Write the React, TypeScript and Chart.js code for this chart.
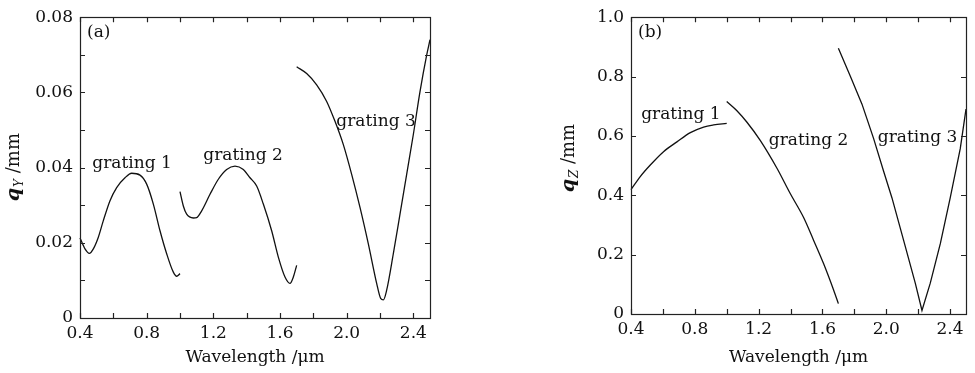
import React, { useEffect, useRef } from 'react';
import { Chart, registerables } from 'chart.js';

Chart.register(...registerables);

const FONT = '"DejaVu Serif", "Liberation Serif", serif';
const INK = '#111111';

// ---------- shared x axis ----------
const xTickValues = [0.4, 0.8, 1.2, 1.6, 2.0, 2.4];
const xTickLabels = ['0.4', '0.8', '1.2', '1.6', '2.0', '2.4'];
const xMinorTicks = [0.4, 0.6, 0.8, 1.0, 1.2, 1.4, 1.6, 1.8, 2.0, 2.2, 2.4];
const seriesNames = ['grating 1', 'grating 2', 'grating 3'];

// ---------- panel (a): q_Y ----------
const aG1X = [0.40, 0.43, 0.456, 0.48, 0.51, 0.54, 0.58, 0.62, 0.67, 0.71, 0.76, 0.80, 0.84, 0.88, 0.92, 0.96, 0.98, 1.00];
const aG1Y = [0.0213, 0.0184, 0.0172, 0.0184, 0.0215, 0.0259, 0.0312, 0.0347, 0.0373, 0.0385, 0.0380, 0.0356, 0.0303, 0.0232, 0.0171, 0.0122, 0.0111, 0.0118];
const aG2X = [1.00, 1.02, 1.04, 1.08, 1.10, 1.13, 1.18, 1.23, 1.28, 1.33, 1.38, 1.42, 1.46, 1.50, 1.55, 1.59, 1.63, 1.66, 1.68, 1.70];
const aG2Y = [0.0336, 0.0298, 0.0276, 0.0266, 0.0267, 0.0285, 0.0329, 0.0369, 0.0395, 0.0404, 0.0395, 0.0373, 0.0351, 0.0303, 0.0232, 0.0162, 0.0109, 0.0092, 0.0109, 0.0140];
const aG3X = [1.70, 1.76, 1.82, 1.88, 1.93, 1.98, 2.03, 2.08, 2.13, 2.18, 2.204, 2.22, 2.24, 2.28, 2.32, 2.36, 2.40, 2.44, 2.48, 2.50];
const aG3Y = [0.0668, 0.0650, 0.0620, 0.0576, 0.0523, 0.0461, 0.0382, 0.0294, 0.0197, 0.0092, 0.0052, 0.0048, 0.0074, 0.0171, 0.0276, 0.0382, 0.0488, 0.0602, 0.0699, 0.0740];
const aYTickValues = [0, 0.02, 0.04, 0.06, 0.08];
const aYTickLabels = ['0', '0.02', '0.04', '0.06', '0.08'];
const aYMinorTicks = [0, 0.01, 0.02, 0.03, 0.04, 0.05, 0.06, 0.07, 0.08];
const aLabelX = [0.712, 1.378, 2.176];
const aLabelY = [0.0412, 0.0433, 0.0523];

// ---------- panel (b): q_Z ----------
const bG1X = [0.40, 0.458, 0.521, 0.604, 0.688, 0.772, 0.855, 0.918, 1.00];
const bG1Y = [0.419, 0.463, 0.502, 0.547, 0.580, 0.611, 0.630, 0.637, 0.642];
const bG2X = [1.00, 1.064, 1.127, 1.21, 1.315, 1.399, 1.482, 1.545, 1.607, 1.670, 1.70];
const bG2Y = [0.716, 0.685, 0.646, 0.585, 0.491, 0.405, 0.325, 0.248, 0.170, 0.081, 0.035];
const bG3X = [1.70, 1.775, 1.848, 1.921, 1.984, 2.036, 2.109, 2.182, 2.224, 2.276, 2.339, 2.401, 2.464, 2.50];
const bG3Y = [0.895, 0.801, 0.707, 0.591, 0.480, 0.391, 0.248, 0.104, 0.012, 0.104, 0.237, 0.391, 0.557, 0.690];
const bYTickValues = [0, 0.2, 0.4, 0.6, 0.8, 1.0];
const bYTickLabels = ['0', '0.2', '0.4', '0.6', '0.8', '1.0'];
const bYMinorTicks = [0, 0.2, 0.4, 0.6, 0.8, 1.0];
const bLabelX = [0.713, 1.513, 2.196];
const bLabelY = [0.673, 0.583, 0.596];

type PanelCfg = {
  tag: string;
  sub: string;
  xs: number[][];
  ys: number[][];
  sharp: boolean[];
  yMax: number;
  yTickValues: number[];
  yTickLabels: string[];
  yMinor: number[];
  labelX: number[];
  labelY: number[];
  canvasLeft: number;
  canvasWidth: number;
  areaLeft: number;
  areaRight: number;
  areaTop: number;
  areaBottom: number;
  yTitleOffset: number;
  yTitleShift: number;
};

const H = 373;

function drawYTitle(ctx: CanvasRenderingContext2D, cx: number, cy: number, sub: string) {
  const big = `italic bold 19px ${FONT}`;
  const small = `italic 12px ${FONT}`;
  const norm = `18px ${FONT}`;
  ctx.font = big;
  const wq = ctx.measureText('q').width;
  ctx.font = small;
  const ws = ctx.measureText(sub).width;
  ctx.font = norm;
  const wr = ctx.measureText(' /mm').width;
  const total = wq + ws + wr;
  ctx.save();
  ctx.translate(cx, cy);
  ctx.rotate(-Math.PI / 2);
  ctx.fillStyle = INK;
  ctx.textAlign = 'left';
  ctx.textBaseline = 'alphabetic';
  let x = -total / 2;
  const base = 6;
  ctx.font = big;
  ctx.fillText('q', x, base);
  x += wq + 1;
  ctx.font = small;
  ctx.fillText(sub, x, base + 4);
  x += ws;
  ctx.font = norm;
  ctx.fillText(' /mm', x, base);
  ctx.restore();
}

function Panel({ cfg }: { cfg: PanelCfg }) {
  const ref = useRef<HTMLCanvasElement | null>(null);

  useEffect(() => {
    if (!ref.current) return;
    const framePlugin = {
      id: 'frameAndText',
      afterDraw(chart: any) {
        const { ctx, chartArea, scales } = chart;
        const { left, right, top, bottom } = chartArea;
        const xs = scales.x;
        const ys = scales.y;
        ctx.save();
        ctx.strokeStyle = '#222';
        ctx.lineWidth = 1.2;
        ctx.strokeRect(Math.round(left) + 0.5, Math.round(top) + 0.5, Math.round(right - left), Math.round(bottom - top));
        const L = 5;
        ctx.beginPath();
        xMinorTicks.forEach((v) => {
          const px = Math.round(xs.getPixelForValue(v)) + 0.5;
          ctx.moveTo(px, bottom);
          ctx.lineTo(px, bottom - L);
          ctx.moveTo(px, top);
          ctx.lineTo(px, top + L);
        });
        cfg.yMinor.forEach((v) => {
          const py = Math.round(ys.getPixelForValue(v)) + 0.5;
          ctx.moveTo(left, py);
          ctx.lineTo(left + L, py);
          ctx.moveTo(right, py);
          ctx.lineTo(right - L, py);
        });
        ctx.stroke();

        ctx.fillStyle = INK;
        ctx.font = `17px ${FONT}`;
        ctx.textAlign = 'center';
        ctx.textBaseline = 'middle';
        seriesNames.forEach((name, i) => {
          ctx.fillText(name, xs.getPixelForValue(cfg.labelX[i]), ys.getPixelForValue(cfg.labelY[i]));
        });
        ctx.textAlign = 'left';
        ctx.fillText(cfg.tag, left + 7, top + 15);
        ctx.restore();

        drawYTitle(ctx, left - cfg.yTitleOffset, (top + bottom) / 2 + cfg.yTitleShift, cfg.sub);
      },
    };

    const datasets = cfg.xs.map((xArr, i) => ({
      label: seriesNames[i],
      data: xArr.map((x, j) => ({ x, y: cfg.ys[i][j] })),
      showLine: true,
      borderColor: INK,
      backgroundColor: INK,
      borderWidth: 1.3,
      pointRadius: 0,
      cubicInterpolationMode: cfg.sharp[i] ? ('default' as const) : ('monotone' as const),
      tension: 0,
      clip: 4,
    }));

    const chart = new Chart(ref.current, {
      type: 'scatter',
      data: { datasets },
      options: {
        animation: false,
        responsive: false,
        events: [],
        layout: {
          padding: {
            left: 0,
            top: cfg.areaTop,
            right: cfg.canvasWidth - cfg.areaRight,
            bottom: 0,
          },
        },
        plugins: {
          legend: { display: false },
          tooltip: { enabled: false },
        },
        scales: {
          x: {
            type: 'linear',
            min: 0.4,
            max: 2.5,
            grid: { display: false, drawTicks: false },
            border: { display: false },
            afterBuildTicks: (s: any) => {
              s.ticks = xTickValues.map((v) => ({ value: v }));
            },
            afterFit: (s: any) => {
              s.height = H - cfg.areaBottom;
            },
            ticks: {
              color: INK,
              font: { family: FONT, size: 17 },
              padding: 5,
              maxRotation: 0,
              autoSkip: false,
              callback: (v: any) => {
                const i = xTickValues.findIndex((t) => Math.abs(t - Number(v)) < 1e-9);
                return i >= 0 ? xTickLabels[i] : '';
              },
            },
            title: {
              display: true,
              text: 'Wavelength /μm',
              color: INK,
              font: { family: FONT, size: 17 },
              padding: { top: 0, bottom: 5 },
            },
          },
          y: {
            type: 'linear',
            min: 0,
            max: cfg.yMax,
            grid: { display: false, drawTicks: false },
            border: { display: false },
            afterBuildTicks: (s: any) => {
              s.ticks = cfg.yTickValues.map((v) => ({ value: v }));
            },
            afterFit: (s: any) => {
              s.width = cfg.areaLeft;
            },
            ticks: {
              color: INK,
              font: { family: FONT, size: 17 },
              padding: 7,
              autoSkip: false,
              callback: (v: any) => {
                const i = cfg.yTickValues.findIndex((t) => Math.abs(t - Number(v)) < 1e-9);
                return i >= 0 ? cfg.yTickLabels[i] : '';
              },
            },
          },
        },
      },
      plugins: [framePlugin],
    } as any);

    return () => chart.destroy();
  }, [cfg]);

  return (
    <canvas
      ref={ref}
      width={cfg.canvasWidth}
      height={H}
      style={{ position: 'absolute', left: cfg.canvasLeft, top: 0, width: cfg.canvasWidth, height: H }}
    />
  );
}

const panelA: PanelCfg = {
  tag: '(a)',
  sub: 'Y',
  xs: [aG1X, aG2X, aG3X],
  ys: [aG1Y, aG2Y, aG3Y],
  sharp: [false, false, false],
  yMax: 0.08,
  yTickValues: aYTickValues,
  yTickLabels: aYTickLabels,
  yMinor: aYMinorTicks,
  labelX: aLabelX,
  labelY: aLabelY,
  canvasLeft: 0,
  canvasWidth: 487,
  areaLeft: 80,
  areaRight: 430,
  areaTop: 15,
  areaBottom: 318,
  yTitleOffset: 67,
  yTitleShift: 0,
};

const panelB: PanelCfg = {
  tag: '(b)',
  sub: 'Z',
  xs: [bG1X, bG2X, bG3X],
  ys: [bG1Y, bG2Y, bG3Y],
  sharp: [false, false, true],
  yMax: 1.0,
  yTickValues: bYTickValues,
  yTickLabels: bYTickLabels,
  yMinor: bYMinorTicks,
  labelX: bLabelX,
  labelY: bLabelY,
  canvasLeft: 487,
  canvasWidth: 488,
  areaLeft: 144,
  areaRight: 479,
  areaTop: 14,
  areaBottom: 314,
  yTitleOffset: 63,
  yTitleShift: -7,
};

export default function App() {
  return (
    <div
      style={{
        position: 'fixed',
        left: 0,
        top: 0,
        width: 975,
        height: H,
        background: '#ffffff',
        overflow: 'hidden',
      }}
    >
      <Panel cfg={panelA} />
      <Panel cfg={panelB} />
    </div>
  );
}
